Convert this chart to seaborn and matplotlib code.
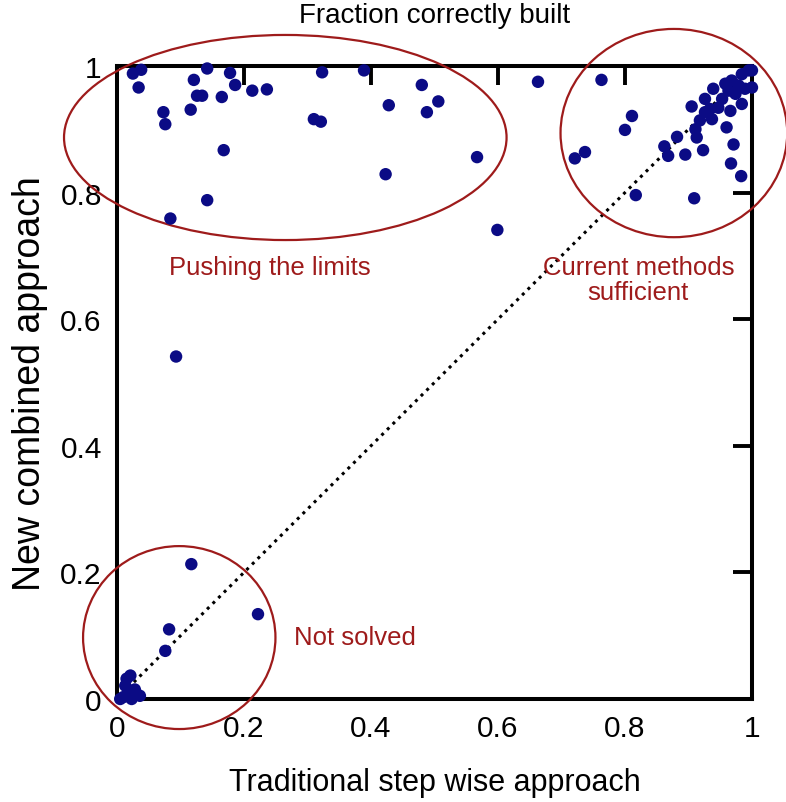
import matplotlib
matplotlib.use('Agg')
import matplotlib.pyplot as plt
from matplotlib.patches import Ellipse
import pandas as pd
import seaborn as sns

# fraction correctly built, traditional (x) vs new combined (y)
limits_x = [0.025, 0.038, 0.034, 0.142, 0.121, 0.178, 0.186, 0.126, 0.134, 0.165,
            0.213, 0.236, 0.073, 0.076, 0.116, 0.168, 0.142, 0.084, 0.323, 0.389,
            0.480, 0.428, 0.506, 0.488, 0.310, 0.321, 0.567, 0.423, 0.599, 0.663, 0.093]
limits_y = [0.988, 0.994, 0.966, 0.996, 0.978, 0.989, 0.970, 0.953, 0.953, 0.951,
            0.961, 0.963, 0.927, 0.908, 0.931, 0.867, 0.788, 0.759, 0.990, 0.993,
            0.970, 0.938, 0.944, 0.927, 0.916, 0.912, 0.856, 0.829, 0.741, 0.975, 0.541]

current_x = [0.763, 0.811, 0.800, 0.721, 0.737, 0.817, 0.909, 0.862, 0.882, 0.868,
             0.895, 0.923, 0.911, 0.913, 0.960, 0.971, 0.967, 0.983, 0.905, 0.926,
             0.939, 0.958, 0.968, 0.984, 0.995, 1.000, 1.000, 0.984, 0.966, 0.937,
             0.934, 0.953, 0.974, 0.989, 0.926, 0.918, 0.947, 0.963, 0.979]
current_y = [0.978, 0.921, 0.899, 0.854, 0.864, 0.796, 0.791, 0.873, 0.888, 0.858,
             0.860, 0.867, 0.900, 0.887, 0.903, 0.876, 0.846, 0.826, 0.936, 0.948,
             0.964, 0.972, 0.977, 0.987, 0.993, 0.993, 0.966, 0.940, 0.929, 0.916,
             0.932, 0.948, 0.956, 0.964, 0.927, 0.914, 0.934, 0.961, 0.969]

unsolved_x = [0.117, 0.222, 0.082, 0.076, 0.021, 0.015, 0.013, 0.018, 0.031, 0.036,
              0.010, 0.023, 0.028, 0.005]
unsolved_y = [0.213, 0.134, 0.110, 0.076, 0.037, 0.032, 0.021, 0.011, 0.008, 0.005,
              0.003, 0.000, 0.015, 0.000]

df = pd.DataFrame({
    'trad': limits_x + current_x + unsolved_x,
    'new': limits_y + current_y + unsolved_y,
})

sns.set_style('white')
plt.rcParams['font.family'] = ['Liberation Sans', 'DejaVu Sans']

red = '#9e1b1b'
navy = '#0b0b85'

fig = plt.figure(figsize=(7.86, 8.03), dpi=100)
ax = fig.add_axes([0.1489, 0.1283, 0.8078, 0.7883])

# diagonal reference line
ax.plot([0, 1], [0, 1], color='black', linestyle=(0, (1, 1.6)), linewidth=2.2, zorder=2)

sns.scatterplot(data=df, x='trad', y='new', ax=ax, color=navy, s=80,
                edgecolor='none', linewidth=0, zorder=4, clip_on=False)

# region ellipses
ax.add_patch(Ellipse((0.265, 0.887), 0.697, 0.324, fill=False, edgecolor=red,
                     linewidth=1.6, clip_on=False, zorder=3))
ax.add_patch(Ellipse((0.877, 0.894), 0.357, 0.329, fill=False, edgecolor=red,
                     linewidth=1.6, clip_on=False, zorder=3))
ax.add_patch(Ellipse((0.098, 0.097), 0.303, 0.289, fill=False, edgecolor=red,
                     linewidth=1.6, clip_on=False, zorder=3))

ax.text(0.240, 0.682, 'Pushing the limits', color=red, fontsize=18.5,
        ha='center', va='center')
ax.text(0.821, 0.663, 'Current methods\nsufficient', color=red, fontsize=18.5,
        ha='center', va='center', linespacing=1.05)
ax.text(0.374, 0.098, 'Not solved', color=red, fontsize=18.5,
        ha='center', va='center')

ax.set_xlim(0, 1)
ax.set_ylim(0, 1)
ax.set_xticks([0, 0.2, 0.4, 0.6, 0.8, 1])
ax.set_yticks([0, 0.2, 0.4, 0.6, 0.8, 1])
ax.set_xticklabels(['0', '0.2', '0.4', '0.6', '0.8', '1'])
ax.set_yticklabels(['0', '0.2', '0.4', '0.6', '0.8', '1'])
ax.tick_params(direction='in', length=14, width=2.8, top=True, right=True,
               labelsize=21.5, colors='black')
ax.tick_params(axis='x', pad=11)
ax.tick_params(axis='y', pad=11)

for sp in ax.spines.values():
    sp.set_visible(True)
    sp.set_linewidth(2.9)
    sp.set_color('black')

ax.set_xlabel('Traditional step wise approach', fontsize=22, labelpad=18, color='black')
ax.set_ylabel('New combined approach', fontsize=27, labelpad=9, color='black')
ax.set_title('Fraction correctly built', fontsize=20, pad=32, color='black')

fig.savefig('out.png', dpi=100)
